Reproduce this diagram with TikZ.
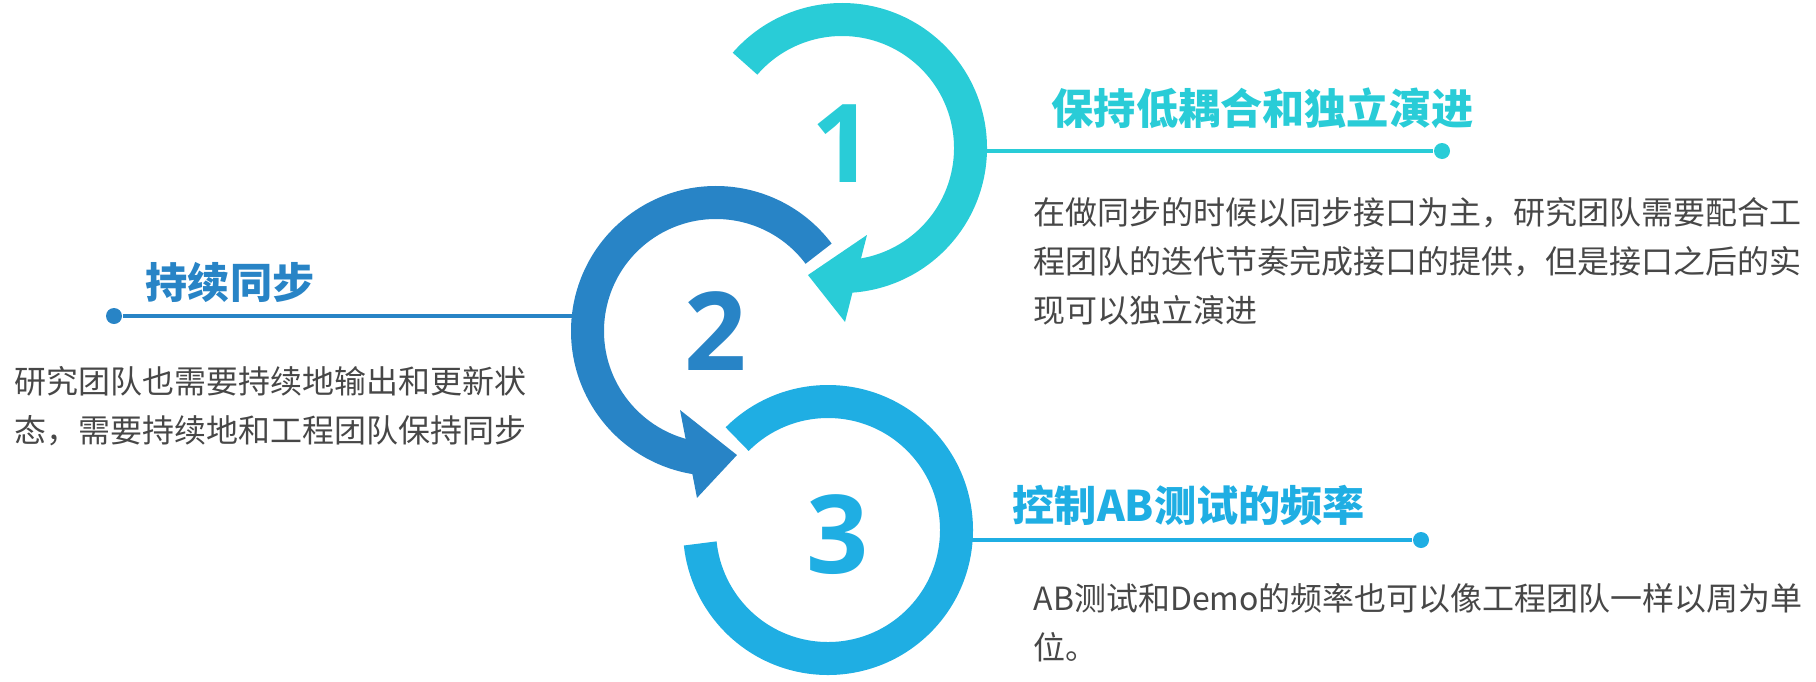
\documentclass[tikz,border=0pt]{standalone}
\usepackage{fontspec}
\setmainfont{Noto Sans CJK SC}
\newfontfamily\numfont{Open Sans}
\definecolor{rdteal}{HTML}{29CCD7}
\definecolor{rdblue}{HTML}{2884C6}
\definecolor{rdsky}{HTML}{1FAEE3}
\definecolor{rdgray}{HTML}{474747}

\begin{document}
\begin{tikzpicture}[
  ring/.style={line width=3.3mm},
  num/.style={font=\numfont\fontsize{31}{31}\selectfont\bfseries,inner sep=0pt},
  ttl/.style={font=\fontsize{12}{14}\selectfont\bfseries,inner sep=0pt,anchor=west},
  txt/.style={font=\fontsize{9.1}{13.9}\selectfont,text=rdgray,
              inner sep=0pt,anchor=north west,align=left},
  dot/.style={circle,inner sep=0pt,minimum size=1.6mm},
  lead/.style={line width=1pt}
]
\useasboundingbox (0,0) rectangle (18.16,-6.81);

% ---- Ring centres ------------------------------------------
\coordinate (c1) at (8.42,-1.48);
\coordinate (c2) at (7.16,-3.31);
\coordinate (c3) at (8.28,-5.30);

% ---- Rings and arrow heads ---------------------------------
\draw[ring,rdsky] (c3) ++(135:1.285)
  arc[start angle=135,end angle=-174,radius=1.285];
\draw[ring,rdblue] (c2) ++(37:1.285)
  arc[start angle=37,end angle=262,radius=1.285];
\fill[rdblue,shift={(c2)}] (-80.4:1.258) -- (-114.5:0.868) -- (-96.5:1.68) -- cycle;
\draw[ring,rdteal] (c1) ++(139:1.285)
  arc[start angle=139,end angle=-87,radius=1.285];
\fill[rdteal,shift={(c1)}] (-105:1.315) -- (-89:1.74) -- (-74:0.905) -- cycle;

% ---- Step numbers ------------------------------------------
\node[num,text=rdteal] (n1) at (8.43,-1.44) {1};
\node[num,text=rdblue] (n2) at (7.16,-3.31) {2};
\node[num,text=rdsky]  (n3) at (8.38,-5.35) {3};

% ---- Leader lines ------------------------------------------
\node[dot,fill=rdteal] (d1) at (14.42,-1.51) {};
\node[dot,fill=rdblue] (d2) at (1.14,-3.16) {};
\node[dot,fill=rdsky]  (d3) at (14.21,-5.40) {};
\coordinate (e1) at (9.86,-1.51);
\coordinate (e2) at (5.72,-3.16);
\coordinate (e3) at (9.72,-5.40);
\draw[lead,rdteal] (e1) -- (d1);
\draw[lead,rdblue] (e2) -- (d2);
\draw[lead,rdsky]  (e3) -- (d3);

% ---- Titles ------------------------------------------------
\node[ttl,text=rdteal] (t1) at (10.51,-1.08) {保持低耦合和独立演进};
\node[ttl,text=rdblue] (t2) at (1.45,-2.82)  {持续同步};
\node[ttl,text=rdsky]  (t3) at (10.12,-5.05) {控制AB测试的频率};

% ---- Descriptions ------------------------------------------
\node[txt] (b1) at (10.33,-1.97)
  {在做同步的时候以同步接口为主，研究团队需要配合工\\
   程团队的迭代节奏完成接口的提供，但是接口之后的实\\
   现可以独立演进};
\node[txt] (b2) at (0.14,-3.66)
  {研究团队也需要持续地输出和更新状\\
   态，需要持续地和工程团队保持同步};
\node[txt] (b3) at (10.33,-5.83)
  {AB测试和Demo的频率也可以像工程团队一样以周为单\\
   位。};

\end{tikzpicture}
\end{document}
